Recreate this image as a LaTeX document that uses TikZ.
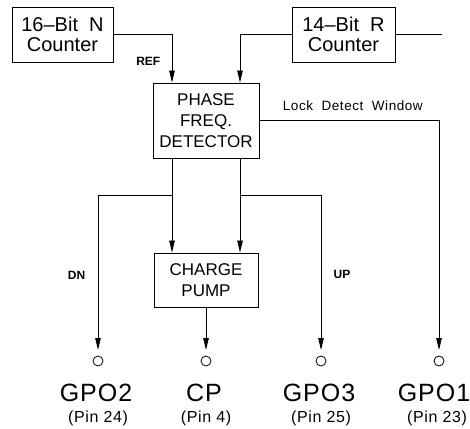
\documentclass[tikz,border=0pt]{standalone}
\usepackage{fontspec}
\setmainfont{Liberation Sans}
\usetikzlibrary{positioning, arrows.meta, calc}

\begin{document}
\begin{tikzpicture}[
  x=1pt, y=-1pt,
  box/.style={draw, line width=0.9pt, align=center, inner sep=0pt,
    font=\fontsize{17}{21}\selectfont},
  pin/.style={draw, circle, line width=0.8pt, minimum size=10pt, inner sep=0pt},
  arr/.style={-{Triangle[length=12pt, width=5.5pt]}, line width=0.8pt},
  wire/.style={line width=0.8pt},
  sig/.style={font=\bfseries\fontsize{12}{14}\selectfont},
  pname/.style={font=\fontsize{25}{28}\selectfont\addfontfeature{LetterSpace=4}},
  pnum/.style={font=\fontsize{16}{18}\selectfont\addfontfeature{LetterSpace=4}}
]
  \useasboundingbox (0,0) rectangle (470,428);

  % Counters
  \node[box, minimum width=101pt, minimum height=55pt,
    font=\fontsize{20}{20}\selectfont] (ncnt) at (62.5,34.5) {16--Bit\ \ N\\Counter};
  \node[box, minimum width=103pt, minimum height=55pt,
    font=\fontsize{20}{20}\selectfont] (rcnt) at (343.5,34.5) {14--Bit\ \ R\\Counter};
  \coordinate (rin) at (442,34.5);

  % Detector and pump
  \node[box, minimum width=106pt, minimum height=75pt] (pfd) at (206,120.5)
    {PHASE\\FREQ.\\DETECTOR};
  \node[box, minimum width=104pt, minimum height=54pt] (cp) at (206,280)
    {CHARGE\\PUMP};

  % Output pins
  \node[pin] (gpo2) at (98,361) {};
  \node[pin] (cpo) at (206,361) {};
  \node[pin] (gpo3) at (321,361) {};
  \node[pin] (gpo1) at (439,361) {};

  \node[pname] (gpo2n) at (96,393) {GPO2};
  \node[pname] (cpn) at (204,393) {CP};
  \node[pname] (gpo3n) at (319,393) {GPO3};
  \node[pname] (gpo1n) at (434,393) {GPO1};
  \node[pnum] at (98,418) {(Pin 24)};
  \node[pnum] at (206,418) {(Pin 4)};
  \node[pnum] at (321,418) {(Pin 25)};
  \node[pnum] at (437,418) {(Pin 23)};

  % Arrows
  \draw[arr] (ncnt.east) -| node[pos=0.78, left=8pt, sig] {REF}
    ([xshift=-34pt]pfd.north);
  \draw[arr] (rcnt.west) -| ([xshift=34pt]pfd.north);
  \draw[wire] (rcnt.east) -- (rin);
  \draw[arr, shorten >=11pt] (pfd.east) -| node[pos=0.26, above=6pt,
    font=\fontsize{13.5}{15}\selectfont\addfontfeature{LetterSpace=4}]
    {Lock\ \ Detect\ \ Window} (gpo1.center);

  \draw[arr] ([xshift=-34pt]pfd.south) -- ([xshift=-34pt]cp.north);
  \draw[arr] ([xshift=34pt]pfd.south) -- ([xshift=34pt]cp.north);
  \draw[arr, shorten >=11pt] ([xshift=-34pt, yshift=-37pt]pfd.south) -|
    node[pos=0.74, left=9pt, sig] {DN} (gpo2.center);
  \draw[arr, shorten >=11pt] ([xshift=34pt, yshift=-37pt]pfd.south) -|
    node[pos=0.74, right=9pt, sig] {UP} (gpo3.center);
  \draw[arr, shorten >=11pt] (cp.south) -- (cpo.center);
\end{tikzpicture}
\end{document}
